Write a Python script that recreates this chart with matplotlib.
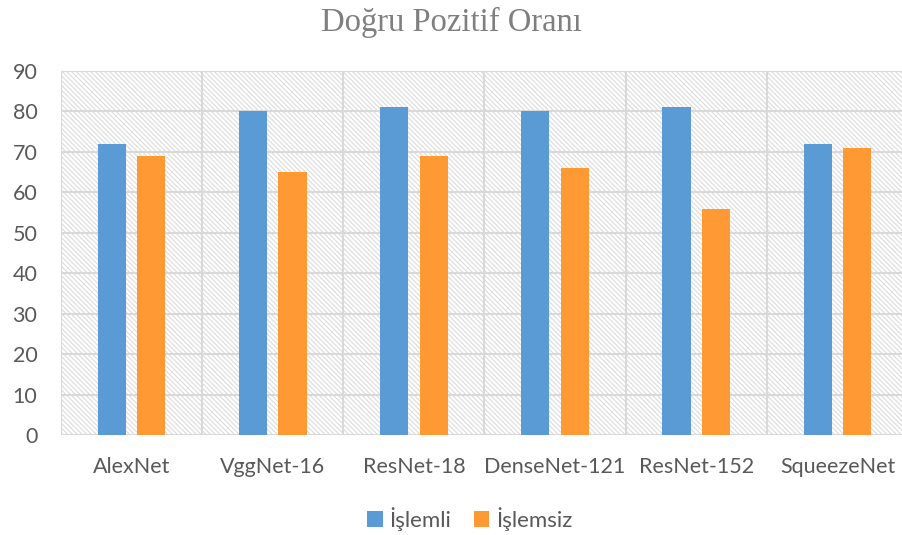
"""
Doğru pozitif oranı: işlemli ve işlemsiz veri ile model karşılaştırması.
"""

import matplotlib.pyplot as plt
from matplotlib.patches import Rectangle
import numpy as np

# data
models = ['AlexNet', 'VggNet-16', 'ResNet-18', 'DenseNet-121', 'ResNet-152', 'SqueezeNet']
islemli = [72, 80, 81, 80, 81, 72]
islemsiz = [69, 65, 69, 66, 56, 71]
yticks = list(range(0, 100, 10))

blue = '#5B9BD5'
orange = '#FF9933'
grid_c = '#D9D9D9'
text_c = '#595959'

plt.rcParams['font.family'] = ['Lato', 'DejaVu Sans']
plt.rcParams['hatch.linewidth'] = 0.8

fig = plt.figure(figsize=(9.02, 5.35), dpi=100)
ax = fig.add_axes([61/902, 100/535, 847/902, 364/535])

x = np.arange(len(models))
w = 0.2

# hatched background
bg = Rectangle((0, 0), 1, 1, transform=ax.transAxes, facecolor='white',
               edgecolor='#DCDCDC', hatch='\\' * 7, lw=0, zorder=0)
ax.add_patch(bg)

ax.bar(x - 0.14, islemli, w, color=blue, label='İşlemli', zorder=3)
ax.bar(x + 0.14, islemsiz, w, color=orange, label='İşlemsiz', zorder=3)

ax.set_xlim(-0.5, len(models) - 0.5)
ax.set_ylim(0, 90)
ax.set_yticks(yticks)
ax.set_xticks(x)
ax.set_xticklabels(models)

# grid lines: horizontal at ticks, vertical at category borders
for v in yticks:
    ax.axhline(v, color=grid_c, lw=1.5, zorder=1)
for b in np.arange(-0.5, len(models), 1.0):
    ax.axvline(b, color=grid_c, lw=1.5, zorder=1)

for s in ax.spines.values():
    s.set_visible(False)
ax.tick_params(axis='both', length=0, colors=text_c, labelsize=15.5)
ax.tick_params(axis='y', pad=17)
ax.tick_params(axis='x', pad=16)

fig.text(0.5, 0.958, 'Doğru Pozitif Oranı', ha='center', va='center',
         fontsize=23.5, color='#7F7F7F', family=['Liberation Serif', 'DejaVu Serif'])

leg = fig.legend(loc='center', bbox_to_anchor=(0.521, 0.03), ncol=2, frameon=False,
                 fontsize=16, handlelength=0.7, handleheight=0.7,
                 handletextpad=0.3, columnspacing=1.0)
for t in leg.get_texts():
    t.set_color(text_c)

fig.savefig('out.png', dpi=100)
